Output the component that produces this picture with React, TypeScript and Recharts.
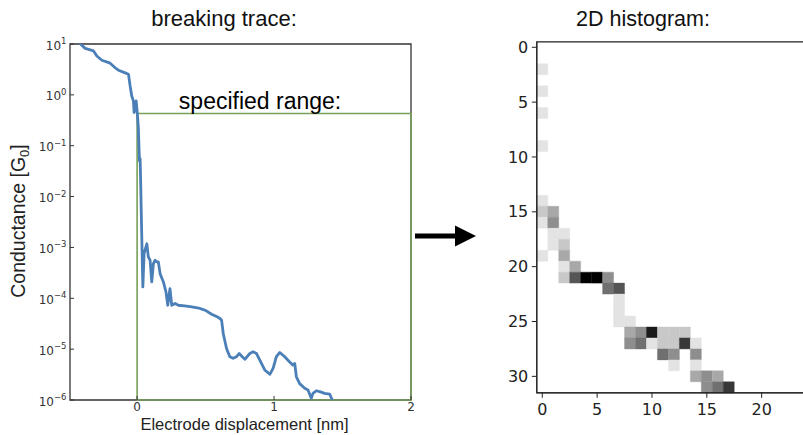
import React from 'react';
import { LineChart, Line, XAxis, YAxis, ReferenceArea, ScatterChart, Scatter } from 'recharts';

const SANS = '"Liberation Sans", Arial, Helvetica, sans-serif';
const DEJAVU = '"DejaVu Sans", sans-serif';

// ---- breaking trace ----
const displacementNm = [
  -0.43, -0.379, -0.318, -0.294, -0.257, -0.197, -0.16, -0.136, -0.087, -0.063,
  -0.051, -0.039, -0.027, -0.022, -0.007, 0.002, 0.009, 0.017, 0.022, 0.025,
  0.033, 0.042, 0.051, 0.071, 0.082, 0.095, 0.107, 0.119, 0.131, 0.143,
  0.155, 0.168, 0.192, 0.211, 0.224, 0.24, 0.253, 0.277, 0.301, 0.362,
  0.41, 0.459, 0.483, 0.508, 0.544, 0.58, 0.605, 0.617, 0.629, 0.653,
  0.677, 0.701, 0.726, 0.745, 0.763, 0.787, 0.823, 0.847, 0.872, 0.896,
  0.932, 0.969, 0.993, 1.017, 1.042, 1.078, 1.114, 1.138, 1.151, 1.163,
  1.187, 1.224, 1.248, 1.272, 1.284, 1.309, 1.333, 1.369, 1.406, 1.425,
];
const conductanceG0 = [
  11, 8.2, 7.3, 5.8, 4.8, 4.2, 3.4, 3.05, 2.7, 2.55,
  1.5, 0.95, 0.76, 0.45, 0.76, 0.42, 0.23, 0.05, 0.056, 0.026,
  2.2e-3, 1.67e-4, 7.6e-4, 1.18e-3, 6.5e-4, 5.6e-4, 2.1e-4, 4.8e-4, 5.6e-4, 5.2e-4,
  5.2e-4, 3.05e-4, 2.1e-4, 1.33e-4, 7.3e-5, 1.55e-4, 7.3e-5, 7.9e-5, 7.3e-5, 7.0e-5,
  6.7e-5, 6.3e-5, 6.0e-5, 5.6e-5, 4.85e-5, 4.4e-5, 4.0e-5, 3.7e-5, 2.03e-5, 1.03e-5,
  7.1e-6, 6.6e-6, 7.1e-6, 8.2e-6, 7.3e-6, 6.3e-6, 8.2e-6, 8.85e-6, 8.2e-6, 6.1e-6,
  3.9e-6, 3.2e-6, 4.2e-6, 7.1e-6, 8.6e-6, 7.1e-6, 5.6e-6, 4.85e-6, 5.25e-6, 2.86e-6,
  2.1e-6, 1.7e-6, 1.57e-6, 1.08e-6, 1.35e-6, 1.52e-6, 1.46e-6, 1.35e-6, 1.31e-6, 1e-6,
];
const traceXDomain = [-0.49, 2];
const traceYDomain = [1e-6, 10];
const traceXTicks = [0, 1, 2];
const traceYTicks = [1e-6, 1e-5, 1e-4, 1e-3, 1e-2, 1e-1, 1, 10];
const traceMinorYTicks: number[] = [];
traceYTicks.slice(0, -1).forEach((d) => {
  for (let k = 2; k <= 9; k++) traceMinorYTicks.push(d * k);
});
const rangeX = [0, 2];
const rangeY = [1e-6, 0.43];

// ---- 2D histogram ----
const histRow = [
  2, 4, 6, 9, 14, 15, 15, 16, 16, 17, 17, 18, 18, 19, 19, 20, 20,
  21, 21, 21, 21, 21, 22, 22, 23, 24, 25, 25,
  26, 26, 26, 26, 26, 26, 27, 27, 27, 27, 27, 27, 27,
  28, 28, 28, 29, 29, 30, 30, 30, 31, 31, 31,
];
const histCol = [
  0, 0, 0, 0, 0, 0, 1, 0, 1, 1, 2, 1, 2, 0, 2, 2, 3,
  2, 3, 4, 5, 6, 6, 7, 7, 7, 7, 8,
  8, 9, 10, 11, 12, 13, 8, 9, 10, 11, 12, 13, 14,
  11, 12, 14, 12, 14, 14, 15, 16, 15, 16, 17,
];
const histCount = [
  1, 1, 1, 1, 1, 2, 3, 1, 4, 1, 1, 1, 2, 1, 3, 1, 3,
  2, 6, 9, 9, 4, 5, 6, 1, 1, 1, 1,
  3, 4, 8, 2, 2, 2, 4, 5, 1, 2, 2, 7, 1,
  5, 4, 4, 1, 1, 3, 4, 3, 4, 5, 7,
];
const histXTicks = [0, 5, 10, 15, 20];
const histYTicks = [0, 5, 10, 15, 20, 25, 30];
const histDomain = [-0.5, 31.5];
const GREYS = ['#ffffff', '#e3e3e3', '#c8c8c8', '#a8a8a8', '#8e8e8e', '#707070', '#555555', '#383838', '#1a1a1a', '#000000'];

const traceData = displacementNm.map((d, i) => ({ d, g: conductanceG0[i] }));
const cells = histRow.map((r, i) => ({ r, c: histCol[i], n: histCount[i] }));

function LogTick(props: any) {
  const { x, y, payload } = props;
  const e = Math.round(Math.log10(payload.value));
  const exp = e < 0 ? '\u2212' + Math.abs(e) : String(e);
  return (
    <text x={x} y={y + 5.5} textAnchor="end" fill="#333" fontSize={12} fontFamily={DEJAVU}>
      10<tspan dy={-5.5} fontSize={8.5}>{exp}</tspan>
    </text>
  );
}

function LinTick(props: any) {
  const { x, y, payload } = props;
  return (
    <text x={x} y={y + 7} textAnchor="middle" fill="#333" fontSize={12} fontFamily={DEJAVU}>
      {payload.value}
    </text>
  );
}

function YLabel(props: any) {
  const { viewBox } = props;
  const cx = viewBox.x + 18;
  const cy = viewBox.y + viewBox.height / 2 - 1;
  return (
    <text transform={`rotate(-90 ${cx} ${cy})`} x={cx} y={cy} dy="0.35em" textAnchor="middle" fill="#222" fontSize={19.5} fontFamily={SANS}>
      Conductance [G<tspan fontSize={13} dy={4}>0</tspan><tspan dy={-4}>]</tspan>
    </text>
  );
}

function RangeLabel(props: any) {
  const { viewBox } = props;
  return (
    <text x={viewBox.x + viewBox.width / 2 - 14} y={viewBox.y - 4} textAnchor="middle" fill="#000" fontSize={23} fontFamily={SANS}>
      specified range:
    </text>
  );
}

export default function App() {
  return (
    <div style={{ position: 'fixed', left: 0, top: 0, width: 803, height: 435, overflow: 'hidden', background: '#fff' }}>
      <div style={{ position: 'absolute', left: 0, top: 0 }}>
        <LineChart width={420} height={435} data={traceData} margin={{ top: 44, right: 9, bottom: 0, left: 0 }}>
          <XAxis
            dataKey="d"
            type="number"
            domain={traceXDomain}
            ticks={traceXTicks}
            interval={0}
            allowDataOverflow
            height={35}
            tickSize={-4}
            tickMargin={8}
            axisLine={false}
            stroke="#333"
            tick={<LinTick />}
            label={{ value: 'Electrode displacement [nm]', position: 'insideBottom', offset: 5, dx: 4, fill: '#222', fontSize: 16.5, fontFamily: SANS }}
          />
          <YAxis
            yAxisId="main"
            dataKey="g"
            type="number"
            scale="log"
            domain={traceYDomain}
            ticks={traceYTicks}
            interval={0}
            allowDataOverflow
            width={70}
            tickSize={-4}
            tickMargin={7.5}
            axisLine={false}
            stroke="#333"
            tick={<LogTick />}
            label={<YLabel />}
          />
          <YAxis
            yAxisId="minor"
            type="number"
            scale="log"
            domain={traceYDomain}
            ticks={traceMinorYTicks}
            interval={0}
            allowDataOverflow
            mirror
            width={10}
            tickSize={2}
            tick={false}
            axisLine={false}
            stroke="#333"
          />
          <ReferenceArea
            yAxisId="main"
            x1={traceXDomain[0]}
            x2={traceXDomain[1]}
            y1={traceYDomain[0]}
            y2={traceYDomain[1]}
            fill="none"
            stroke="#333"
            strokeWidth={1.3}
            ifOverflow="visible"
          />
          <Line
            yAxisId="main"
            dataKey="g"
            type="linear"
            stroke="#4a7fb8"
            strokeWidth={2.8}
            strokeLinejoin="round"
            dot={false}
            isAnimationActive={false}
          />
          <ReferenceArea
            yAxisId="main"
            x1={rangeX[0]}
            x2={rangeX[1]}
            y1={rangeY[0]}
            y2={rangeY[1]}
            fill="none"
            stroke="#77a058"
            strokeWidth={1.6}
            ifOverflow="visible"
            label={<RangeLabel />}
          />
        </LineChart>
      </div>
      <div style={{ position: 'absolute', left: 480, top: 0 }}>
        <ScatterChart width={420} height={435} margin={{ top: 41.8, right: 12.2, bottom: 0, left: 0 }}>
          <XAxis
            dataKey="c"
            type="number"
            domain={histDomain}
            ticks={histXTicks}
            interval={0}
            allowDataOverflow
            height={42.2}
            tickSize={5}
            tickMargin={6}
            stroke="#222"
            tick={{ fill: '#222', fontSize: 16, fontFamily: DEJAVU }}
          />
          <YAxis
            dataKey="r"
            type="number"
            reversed
            domain={histDomain}
            ticks={histYTicks}
            interval={0}
            allowDataOverflow
            width={56.8}
            tickSize={5}
            tickMargin={3.5}
            stroke="#222"
            tick={{ fill: '#222', fontSize: 16, fontFamily: DEJAVU }}
          />
          {cells.map((cell, i) => (
            <ReferenceArea
              key={i}
              x1={cell.c - 0.5}
              x2={cell.c + 0.5}
              y1={cell.r - 0.5}
              y2={cell.r + 0.5}
              fill={GREYS[cell.n]}
              fillOpacity={1}
              stroke={GREYS[cell.n]}
              strokeWidth={0.4}
              ifOverflow="visible"
            />
          ))}
          <ReferenceArea
            x1={histDomain[0]}
            x2={histDomain[1]}
            y1={histDomain[0]}
            y2={histDomain[1]}
            fill="none"
            stroke="#222"
            strokeWidth={1.2}
            ifOverflow="visible"
          />
          <Scatter data={cells} fill="none" shape={() => <g />} isAnimationActive={false} />
        </ScatterChart>
      </div>
      <svg width={803} height={435} style={{ position: 'absolute', left: 0, top: 0, pointerEvents: 'none' }}>
        <text x={224} y={26} textAnchor="middle" fontSize={22} fontFamily={SANS} fill="#111">breaking trace:</text>
        <text x={643} y={26} textAnchor="middle" fontSize={21.5} fontFamily={SANS} fill="#111">2D histogram:</text>
        <line x1={415} y1={236} x2={458} y2={236} stroke="#000" strokeWidth={5} />
        <polygon points="455,225.5 476,236 455,246.5" fill="#000" />
      </svg>
    </div>
  );
}
